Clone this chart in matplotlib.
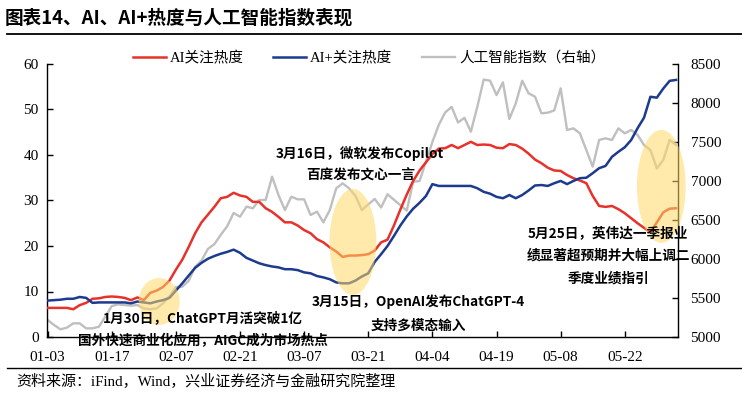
import matplotlib
matplotlib.use("Agg")
import matplotlib.pyplot as plt
from matplotlib.patches import Ellipse
from matplotlib.lines import Line2D

plt.rcParams['font.family'] = ['Liberation Serif', 'Noto Sans CJK SC', 'DejaVu Sans']

tick_labels = ["01-03", "01-17", "02-07", "02-21", "03-07", "03-21",
               "04-04", "04-19", "05-08", "05-22"]

ai_heat = [6.4, 6.4, 6.4, 6.4, 6.1, 7.0, 7.5, 8.4, 8.5, 8.8,
           8.9, 8.8, 8.6, 8.1, 8.7, 8.1, 9.7, 10.2, 11.0, 12.4,
           14.8, 17.0, 19.8, 22.8, 25.2, 26.9, 28.6, 30.5, 30.8, 31.7,
           31.1, 30.8, 29.7, 29.7, 28.3, 27.5, 26.4, 25.2, 25.2, 24.5,
           23.5, 22.8, 21.5, 20.8, 19.7, 18.8, 17.6, 17.9, 17.9, 18.0,
           18.2, 19.0, 20.8, 21.4, 24.5, 28.0, 31.3, 34.3, 36.6, 38.4,
           40.2, 41.4, 41.5, 42.2, 41.5, 42.2, 42.9, 42.2, 42.3, 42.2,
           41.6, 41.5, 42.4, 42.2, 41.4, 40.3, 39.0, 38.2, 37.2, 36.6,
           36.5, 35.6, 34.9, 34.4, 33.8, 31.0, 28.8, 28.6, 28.8, 28.1,
           27.2, 26.1, 25.0, 24.0, 23.0, 25.2, 27.4, 28.2, 28.3]

aiplus_heat = [8.0, 8.1, 8.2, 8.4, 8.4, 8.8, 8.6, 7.5, 7.6, 7.6,
               7.6, 7.6, 7.6, 7.4, 7.8, 7.6, 7.4, 7.8, 8.1, 8.6,
               10.2, 11.8, 13.5, 15.2, 16.3, 17.2, 17.8, 18.3, 18.7, 19.2,
               18.5, 17.4, 16.8, 16.2, 15.8, 15.5, 15.3, 14.9, 14.9, 14.7,
               14.2, 14.0, 13.4, 13.1, 12.7, 12.0, 11.8, 11.8, 12.4, 13.3,
               14.0, 16.5, 18.2, 20.0, 22.2, 24.5, 26.5, 28.2, 29.5, 31.0,
               33.6, 33.2, 33.2, 33.2, 33.2, 33.2, 33.2, 32.7, 31.9, 31.5,
               30.8, 30.5, 31.2, 30.5, 31.2, 32.2, 33.3, 33.4, 33.2, 33.8,
               34.3, 33.6, 34.3, 34.9, 35.0, 36.0, 37.1, 37.6, 39.6, 40.7,
               41.7, 43.3, 45.9, 48.2, 52.8, 52.6, 54.6, 56.3, 56.5]

ai_index = [5218, 5154, 5098, 5120, 5175, 5175, 5111, 5111, 5132, 5261,
            5397, 5419, 5410, 5402, 5410, 5367, 5355, 5367, 5432, 5520,
            5640, 5645, 5720, 5900, 5980, 6130, 6190, 6310, 6420, 6590,
            6542, 6671, 6650, 6756, 6756, 7055, 6820, 6628, 6799, 6765,
            6765, 6564, 6607, 6470, 6628, 6906, 6970, 6906, 6808, 6628,
            6700, 6770, 6660, 6830, 6760, 6690, 6620, 6990, 7000, 7250,
            7500, 7720, 7880, 7950, 7750, 7810, 7632, 7950, 8300, 8286,
            8102, 8265, 7795, 7996, 8285, 8124, 8081, 7868, 7876, 7905,
            8188, 7654, 7675, 7611, 7397, 7184, 7526, 7547, 7526, 7675,
            7611, 7654, 7590, 7461, 7397, 7162, 7269, 7526, 7461]

W, H = 742, 398
fig = plt.figure(figsize=(W / 100, H / 100), dpi=100)
ax = fig.add_axes([47 / W, 1 - 337 / H, (678 - 47) / W, (337 - 64) / H])
ax2 = ax.twinx()

x = list(range(len(ai_heat)))
RED = '#E8312B'
BLUE = '#1C3A8E'
GRAY = '#BFBFBF'

l3, = ax2.plot(x, ai_index, color=GRAY, lw=1.7, zorder=2)
l1, = ax.plot(x, ai_heat, color=RED, lw=1.8, zorder=3)
l2, = ax.plot(x, aiplus_heat, color=BLUE, lw=1.8, zorder=3)
ax.set_zorder(ax2.get_zorder() + 1)
ax.patch.set_visible(False)

ax.set_xlim(-0.1, 98.3)
ax.set_ylim(0, 60)
ax2.set_ylim(5000, 8500)
ax.set_yticks(range(0, 61, 10))
ax2.set_yticks(range(5000, 8501, 500))
ax.set_xticks(range(0, 10 * len(tick_labels), 10))
ax.set_xticklabels(tick_labels)

for a in (ax, ax2):
    a.spines['top'].set_visible(False)
    for s in a.spines.values():
        s.set_linewidth(1.0)
ax.spines['right'].set_visible(False)
ax2.spines['left'].set_visible(False)
ax2.spines['bottom'].set_visible(False)

ax.tick_params(axis='both', direction='in', length=4, width=1, labelsize=11, pad=5)
ax.tick_params(axis='y', pad=6)
ax2.tick_params(axis='y', direction='in', length=4, width=1, labelsize=11, pad=9)
for lab in ax.get_xticklabels() + ax.get_yticklabels() + ax2.get_yticklabels():
    lab.set_fontfamily('Liberation Serif')
ax.tick_params(axis='x', pad=10)

# highlight ellipses
for (cx, cy, w, h) in [(17.4, 7.8, 6.4, 10.3), (47.6, 20.9, 7.3, 23.3), (95.7, 33.1, 7.6, 24.8)]:
    e = Ellipse((cx, cy), w, h, facecolor='#FFD966', edgecolor='none', alpha=0.55,
                zorder=5, clip_on=False)
    ax.add_patch(e)

# legend
handles = [l1, l2, l3]
labels = ['AI关注热度', 'AI+关注热度', '人工智能指数（右轴）']
leg = fig.legend(handles, labels, loc='center', bbox_to_anchor=(369 / W, 1 - 58 / H),
                 ncol=3, frameon=False, fontsize=10.5, handlelength=2.25,
                 columnspacing=2.0, handletextpad=0.3)

# annotations
afont = dict(family=['Noto Sans CJK SC'], weight='bold', fontsize=9.8, ha='center', va='center')
notes = [
    (203, 318, '1月30日，ChatGPT月活突破1亿'),
    (203, 341, '国外快速商业化应用，AIGC成为市场热点'),
    (360, 153, '3月16日，微软发布Copilot'),
    (361, 176, '百度发布文心一言'),
    (418, 302, '3月15日，OpenAI发布ChatGPT-4'),
    (418, 326, '支持多模态输入'),
    (608, 233, '5月25日，英伟达一季报业'),
    (608, 256, '绩显著超预期并大幅上调二'),
    (608, 279, '季度业绩指引'),
]
for px, py, t in notes:
    fig.text(px / W, 1 - py / H, t, zorder=10, **afont)

# title and rules
fig.text(5 / W, 1 - 18 / H, '图表14、AI、AI+热度与人工智能指数表现',
         family=['Noto Sans CJK SC'], weight='bold', fontsize=13.4, ha='left', va='center')
fig.add_artist(Line2D([7 / W, 1], [1 - 33.5 / H, 1 - 33.5 / H], color='black', lw=1.3))
fig.add_artist(Line2D([7 / W, 1], [1 - 368 / H, 1 - 368 / H], color='black', lw=1.0))
fig.text(16 / W, 1 - 382 / H, '资料来源：iFind，Wind，兴业证券经济与金融研究院整理',
         family=['Liberation Serif', 'Noto Sans CJK SC'], fontsize=10.8, ha='left', va='center')

fig.savefig('out.png', dpi=100)
